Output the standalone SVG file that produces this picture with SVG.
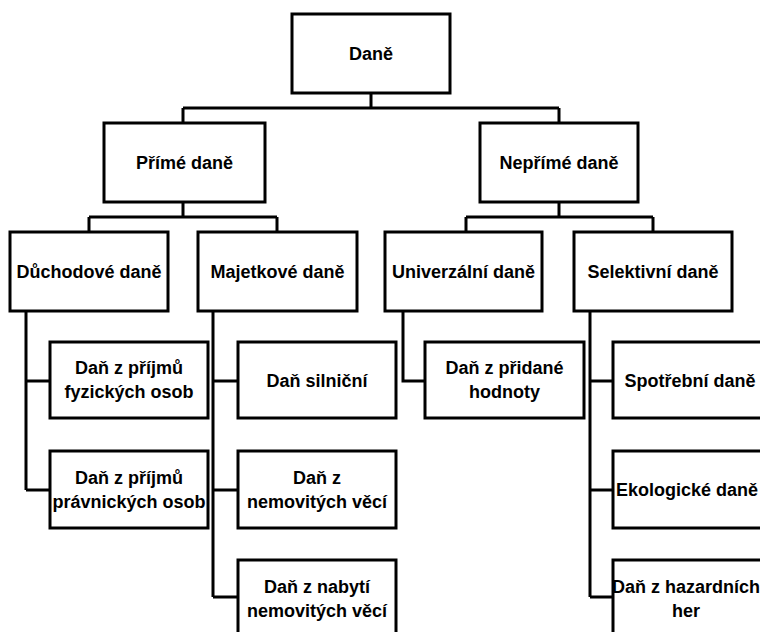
<svg xmlns="http://www.w3.org/2000/svg" width="760" height="632" viewBox="0 0 760 632">
<style>
.box{fill:#fff;stroke:#000;stroke-width:3}
.lbl{font-family:"Liberation Sans",Arial,sans-serif;font-weight:bold;font-size:18px;fill:#000;text-anchor:middle}
.con{fill:none;stroke:#000;stroke-width:3}
</style>
<rect width="760" height="632" fill="#fff"/>
<g id="connectors">
<path class="con" d="M371,93V108M183,108H559M183,108V123M559,108V123"/>
<path class="con" d="M183,202V217M89,217H277M89,217V232M277,217V232"/>
<path class="con" d="M559,202V217M466,217H653M466,217V232M653,217V232"/>
<path class="con" d="M26,311V490M26,381H50M26,490H50"/>
<path class="con" d="M213,311V597M213,381H238M213,490H238M213,597H238"/>
<path class="con" d="M403,311V381H425"/>
<path class="con" d="M590,311V597M590,381H613M590,490H613M590,597H613"/>
</g>
<g id="dane"><rect class="box" x="292" y="14" width="158" height="79"/><text class="lbl" x="371" y="60">Daně</text></g>
<g id="prime"><rect class="box" x="104" y="123" width="161" height="79"/><text class="lbl" x="184.5" y="169">Přímé daně</text></g>
<g id="neprime"><rect class="box" x="480" y="123" width="158" height="79"/><text class="lbl" x="559" y="169">Nepřímé daně</text></g>
<g id="duchodove"><rect class="box" x="10" y="232" width="158" height="79"/><text class="lbl" x="89" y="278">Důchodové daně</text></g>
<g id="majetkove"><rect class="box" x="198" y="232" width="159" height="79"/><text class="lbl" x="277.5" y="278">Majetkové daně</text></g>
<g id="univerzalni"><rect class="box" x="385" y="232" width="157" height="79"/><text class="lbl" x="463.5" y="278">Univerzální daně</text></g>
<g id="selektivni"><rect class="box" x="574" y="232" width="158" height="79"/><text class="lbl" x="653" y="278">Selektivní daně</text></g>
<g id="dpfo"><rect class="box" x="50" y="342" width="158" height="76"/><text class="lbl" x="129" y="374">Daň z příjmů</text><text class="lbl" x="129" y="398">fyzických osob</text></g>
<g id="dppo"><rect class="box" x="50" y="451" width="158" height="77"/><text class="lbl" x="129" y="484">Daň z příjmů</text><text class="lbl" x="129" y="508">právnických osob</text></g>
<g id="silnicni"><rect class="box" x="238" y="342" width="158" height="76"/><text class="lbl" x="317" y="387">Daň silniční</text></g>
<g id="nemovitosti"><rect class="box" x="238" y="451" width="158" height="77"/><text class="lbl" x="317" y="484">Daň z</text><text class="lbl" x="317" y="508">nemovitých věcí</text></g>
<g id="nabyti"><rect class="box" x="238" y="560" width="158" height="78"/><text class="lbl" x="317" y="593">Daň z nabytí</text><text class="lbl" x="317" y="617">nemovitých věcí</text></g>
<g id="dph"><rect class="box" x="425" y="342" width="159" height="76"/><text class="lbl" x="504.5" y="374">Daň z přidané</text><text class="lbl" x="504.5" y="398">hodnoty</text></g>
<g id="spotrebni"><rect class="box" x="613" y="342" width="158" height="76"/><text class="lbl" x="690" y="387">Spotřební daně</text></g>
<g id="ekologicke"><rect class="box" x="613" y="451" width="158" height="77"/><text class="lbl" x="687" y="496">Ekologické daně</text></g>
<g id="hazardni"><rect class="box" x="613" y="560" width="158" height="78"/><text class="lbl" x="686" y="593">Daň z hazardních</text><text class="lbl" x="686" y="617">her</text></g>
</svg>
